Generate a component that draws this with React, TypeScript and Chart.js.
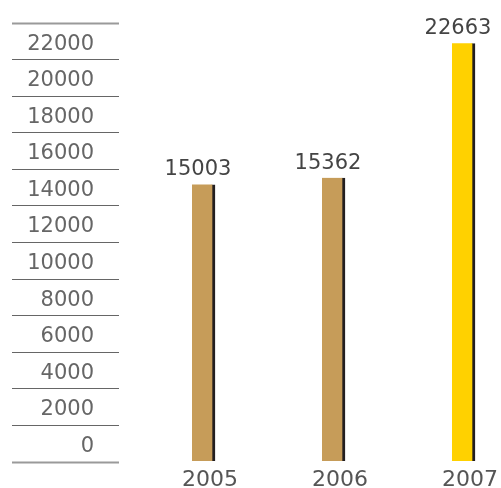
import React, { useEffect, useRef } from 'react';
import { Chart, registerables } from 'chart.js';

Chart.register(...registerables);

const years = [2005, 2006, 2007];
const values = [15003, 15362, 22663];
const barColors = ['#c69c59', '#c69c59', '#ffd100'];
const edgeColor = '#231f20';
const yTicks = [0, 2000, 4000, 6000, 8000, 10000, 12000, 14000, 16000, 18000, 20000, 22000, 24000];
const yTickLabels = ['0', '2000', '4000', '6000', '8000', '10000', '12000', '14000', '16000', '18000', '20000', '22000', ''];

const FONT = "'DejaVu Sans', sans-serif";

const valueLabels = {
  id: 'valueLabels',
  afterDatasetsDraw(chart: any) {
    const ctx = chart.ctx;
    const meta = chart.getDatasetMeta(0);
    ctx.save();
    ctx.font = `21px ${FONT}`;
    ctx.fillStyle = '#444444';
    ctx.textAlign = 'center';
    ctx.textBaseline = 'alphabetic';
    meta.data.forEach((el: any, i: number) => {
      ctx.fillText(String(values[i]), el.x - 5.5, el.y - 9);
    });
    ctx.restore();
  },
};

export default function App() {
  const ref = useRef<HTMLCanvasElement | null>(null);

  useEffect(() => {
    if (!ref.current) return;
    const lastIdx = yTicks.length - 1;
    const chart = new Chart(ref.current, {
      type: 'bar',
      data: {
        datasets: [
          {
            data: years.map((x, i) => ({ x, y: values[i] })),
            xAxisID: 'x',
            yAxisID: 'yBar',
            backgroundColor: barColors,
            borderColor: edgeColor,
            borderWidth: { left: 0, right: 3, top: 0, bottom: 0 },
            borderSkipped: false,
            barThickness: 23,
          } as any,
        ],
      },
      options: {
        animation: false,
        responsive: true,
        maintainAspectRatio: false,
        layout: { padding: { top: 23, left: 0, right: 0, bottom: 0 } },
        plugins: {
          legend: { display: false },
          tooltip: { enabled: false },
        },
        scales: {
          x: {
            type: 'linear',
            offset: false,
            min: 2004.35,
            max: 2007.2885,
            grid: { display: false, offset: false },
            border: { display: false },
            afterBuildTicks: (s: any) => {
              s.ticks = years.map((v) => ({ value: v }));
            },
            afterFit: (s: any) => {
              s.height = 26;
            },
            ticks: {
              callback: (v: any) => String(v),
              labelOffset: 6.5,
              padding: -3,
              autoSkip: false,
              maxRotation: 0,
              color: '#555555',
              font: { family: FONT, size: 22 },
            },
          },
          y: {
            type: 'linear',
            position: 'left',
            min: 0,
            max: 24000,
            afterBuildTicks: (s: any) => {
              s.ticks = yTicks.map((v) => ({ value: v }));
            },
            afterFit: (s: any) => {
              s.width = 119;
            },
            grid: {
              drawOnChartArea: false,
              drawTicks: true,
              tickLength: 107,
              tickColor: (c: any) => (c.index === 0 || c.index === lastIdx ? '#9a9a9a' : '#666666'),
              tickWidth: (c: any) => (c.index === 0 || c.index === lastIdx ? 2 : 1),
            },
            border: { display: false },
            ticks: {
              callback: (_v: any, i: number) => yTickLabels[i],
              padding: -82,
              labelOffset: -15.5,
              autoSkip: false,
              color: '#666666',
              font: { family: FONT, size: 21 },
            },
          },
          yBar: {
            type: 'linear',
            display: false,
            min: -60,
            max: 23760,
          },
        },
      } as any,
      plugins: [valueLabels],
    });
    return () => chart.destroy();
  }, []);

  return (
    <div style={{ position: 'absolute', left: 0, top: 0, width: 501, height: 488 }}>
      <canvas ref={ref} />
    </div>
  );
}
